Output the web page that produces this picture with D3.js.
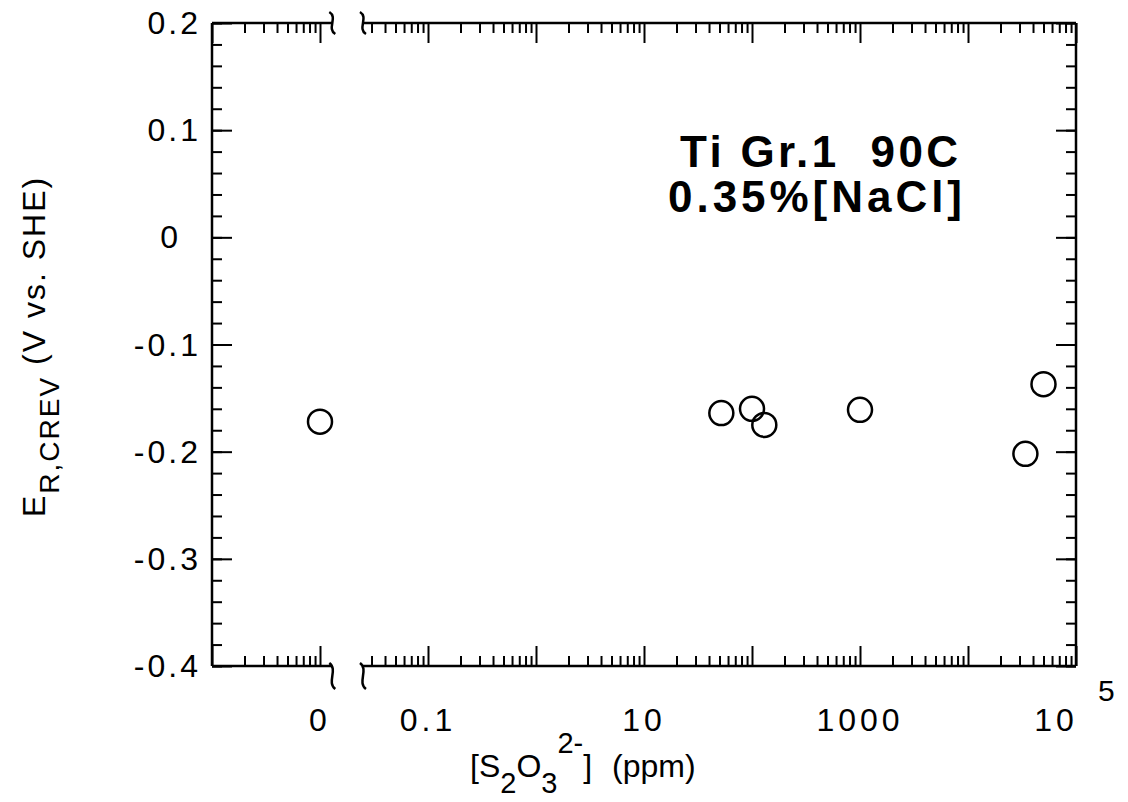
<!DOCTYPE html>
<html>
<head>
<meta charset="utf-8">
<script src="https://cdn.jsdelivr.net/npm/d3@7"></script>
<style>
  body { margin: 0; background: #fff; }
  text { font-family: "Liberation Sans", Arial, Helvetica, sans-serif; fill: #000; }
</style>
</head>
<body>
<svg id="chart" width="1128" height="802"></svg>
<script>
// Crevice repassivation potential of Ti Grade 1 against thiosulfate concentration
const concentrations = [0, 52, 100, 130, 1000, 34000, 50000];           // ppm (0 = none added)
const potentials     = [-0.172, -0.164, -0.160, -0.175, -0.161, -0.202, -0.137]; // V vs. SHE

const xTickValues = [0, 0.1, 10, 1000, 1e5];
const xTickLabels = ["0", "0.1", "10", "1000", "10"];
const yTickValues = [0.2, 0.1, 0, -0.1, -0.2, -0.3, -0.4];
const yTickLabels = ["0.2", "0.1", "0", "-0.1", "-0.2", "-0.3", "-0.4"];
const yMinorStep = 0.02;
const annotationLines = ["Ti Gr.1  90C", "0.35%[NaCl]"];

// "0" sits one decade inside the left end of the log axis, followed by an axis break
const zeroPosition = 0.01;
const axisBreak = [0.013, 0.025];

const svg = d3.select("#chart");
const plotLeft = 212, plotRight = 1076, plotTop = 23, plotBottom = 666;

const x = d3.scaleLog().domain([0.001, 1e5]).range([plotLeft, plotRight]);
const y = d3.scaleLinear().domain([-0.4, 0.2]).range([plotBottom, plotTop]);
const xPos = v => x(v === 0 ? zeroPosition : v);
const inBreak = v => v > axisBreak[0] && v < axisBreak[1];

// log tick positions
const majorX = d3.range(-3, 6).map(d => Math.pow(10, d)).filter(v => !inBreak(v));
const minorX = [];
for (let d = -3; d < 5; d++) for (let k = 2; k <= 9; k++) {
  const v = k * Math.pow(10, d);
  if (!inBreak(v)) minorX.push(v);
}
const majorY = yTickValues;
const minorY = d3.range(-0.4, 0.2001, yMinorStep).map(v => +v.toFixed(2));

const MAJ = 20, MIN = 10;

function tickGroup(axisFn, scale, values, size, transform) {
  const g = svg.append("g").attr("transform", transform)
    .call(axisFn(scale).tickValues(values).tickSize(-size).tickFormat(""));
  g.select(".domain").remove();
  g.selectAll("line").attr("stroke", "#000").attr("stroke-width", 2);
  return g;
}

// inward ticks on all four sides
tickGroup(d3.axisBottom, x, minorX, MIN, `translate(0,${plotBottom})`);
tickGroup(d3.axisBottom, x, majorX, MAJ, `translate(0,${plotBottom})`);
tickGroup(d3.axisTop, x, minorX, MIN, `translate(0,${plotTop})`);
tickGroup(d3.axisTop, x, majorX, MAJ, `translate(0,${plotTop})`);
tickGroup(d3.axisLeft, y, minorY, MIN, `translate(${plotLeft},0)`);
tickGroup(d3.axisLeft, y, majorY, MAJ, `translate(${plotLeft},0)`);
tickGroup(d3.axisRight, y, minorY, MIN, `translate(${plotRight},0)`);
tickGroup(d3.axisRight, y, majorY, MAJ, `translate(${plotRight},0)`);

// frame, with the horizontal edges broken around the gap
const frame = svg.append("g").attr("stroke", "#000").attr("stroke-width", 2.5).attr("fill", "none");
const bx0 = x(axisBreak[0]), bx1 = x(axisBreak[1]);
[plotTop, plotBottom].forEach(yy => {
  frame.append("line").attr("x1", plotLeft).attr("x2", bx0).attr("y1", yy).attr("y2", yy);
  frame.append("line").attr("x1", bx1).attr("x2", plotRight).attr("y1", yy).attr("y2", yy);
});
frame.append("line").attr("x1", plotLeft).attr("x2", plotLeft).attr("y1", plotTop).attr("y2", plotBottom);
frame.append("line").attr("x1", plotRight).attr("x2", plotRight).attr("y1", plotTop).attr("y2", plotBottom);

// break marks: small S-shaped strokes at each side of the gap
function squiggle(cx, cy, h) {
  return `M${cx - 3},${cy - h / 2} C${cx + 6},${cy - h / 4} ${cx - 6},${cy + h / 4} ${cx + 3},${cy + h / 2}`;
}
[bx0, bx1].forEach(bx => {
  frame.append("path").attr("d", squiggle(bx, plotBottom + 10, 26)).attr("stroke-width", 2.5);
  frame.append("path").attr("d", squiggle(bx, plotTop, 22)).attr("stroke-width", 2.5);
});

// tick labels
const labelSize = 32;
svg.append("g").selectAll("text").data(yTickValues).join("text")
  .attr("x", d => d === 0 ? 181 : 201).attr("y", d => y(d) + 11)
  .attr("text-anchor", "end").attr("font-size", labelSize)
  .attr("letter-spacing", 3)
  .text((d, i) => yTickLabels[i]);

svg.append("g").selectAll("text").data(xTickValues).join("text")
  .attr("x", (d, i) => xPos(d) + (i === 4 ? -20 : 0))
  .attr("y", 731)
  .attr("text-anchor", "middle").attr("font-size", labelSize)
  .attr("letter-spacing", 4)
  .text((d, i) => xTickLabels[i]);
svg.append("text").attr("x", xPos(1e5) + 22).attr("y", 701)
  .attr("font-size", 30).text("5");

// axis titles
const xt = svg.append("text").attr("x", 470).attr("y", 777).attr("font-size", 32);
xt.append("tspan").text("[S");
xt.append("tspan").attr("dy", 16).attr("font-size", 29).text("2");
xt.append("tspan").attr("dy", -16).text("O");
xt.append("tspan").attr("dy", 16).attr("font-size", 29).text("3");
xt.append("tspan").attr("dy", -40).attr("font-size", 29).text("2-");
xt.append("tspan").attr("dy", 24).text("]");
xt.append("tspan").attr("dx", 20).text("(ppm)");

const yt = svg.append("text").attr("transform", "translate(45,517) rotate(-90)")
  .attr("font-size", 32).attr("letter-spacing", 2);
yt.append("tspan").text("E");
yt.append("tspan").attr("dy", 14).attr("font-size", 28).text("R,CREV");
yt.append("tspan").attr("dy", -14).text(" (V vs. SHE)");

// annotation
svg.append("text").attr("x", 680).attr("y", 167).attr("font-size", 44)
  .attr("font-weight", "bold").attr("xml:space", "preserve")
  .attr("textLength", 278).attr("lengthAdjust", "spacing")
  .text(annotationLines[0]);
svg.append("text").attr("x", 668).attr("y", 212).attr("font-size", 44)
  .attr("font-weight", "bold")
  .attr("textLength", 294).attr("lengthAdjust", "spacing")
  .text(annotationLines[1]);

// data points
svg.append("g").selectAll("circle").data(concentrations).join("circle")
  .attr("cx", d => xPos(d))
  .attr("cy", (d, i) => y(potentials[i]))
  .attr("r", 12)
  .attr("fill", "none").attr("stroke", "#000").attr("stroke-width", 2.5);
</script>
</body>
</html>
